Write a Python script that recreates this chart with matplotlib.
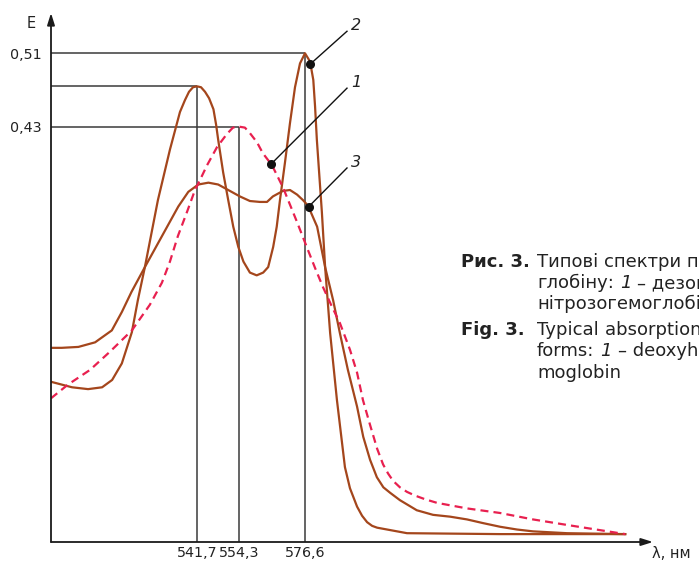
import numpy as np
import matplotlib
matplotlib.use("Agg")
import matplotlib.pyplot as plt

plt.rcParams['font.family'] = ['DejaVu Sans']

# ---------------- data ----------------
peak_wl = [541.7, 554.3, 576.6]
peak_wl_labels = ["541,7", "554,3", "576,6"]
peak_E = [0.474, 0.43, 0.51]
ytick_vals = [0.51, 0.43]
ytick_labels = ["0,51", "0,43"]

# curve 1 (dashed)
c1_wl = [498.0, 503.1, 509.7, 515.7, 522.2, 527.6, 531.2, 533.6, 536.0, 538.7,
         541.1, 542.6, 544.7, 547.7, 550.6, 552.4, 554.3, 556.2, 557.9, 560.3,
         562.3, 565.4, 569.1, 571.5, 573.9, 577.3, 580.0, 582.7, 585.4, 588.4,
         591.8, 594.2, 596.2, 598.6, 601.0, 603.0, 604.7, 606.4, 608.7, 611.1,
         613.8, 617.2, 621.3, 631.4, 642.6, 653.7, 665.2, 684.9]
c1_E = [0.134, 0.149, 0.165, 0.185, 0.208, 0.236, 0.260, 0.283, 0.311, 0.337,
        0.361, 0.372, 0.388, 0.408, 0.422, 0.429, 0.430, 0.429, 0.423, 0.413,
        0.401, 0.388, 0.364, 0.345, 0.326, 0.298, 0.276, 0.255, 0.236, 0.216,
        0.187, 0.162, 0.132, 0.105, 0.079, 0.062, 0.052, 0.044, 0.037, 0.032,
        0.028, 0.024, 0.020, 0.014, 0.009, 0.002, -0.004, -0.014]

# curve 2 (two sharp maxima)
c2_wl = [498.0, 504.3, 509.1, 513.3, 516.3, 519.2, 522.2, 524.0, 526.1, 530.0,
         533.6, 536.6, 538.1, 539.3, 540.5, 541.7, 542.9, 544.1, 545.3, 546.6,
         547.4, 548.0, 549.5, 551.0, 552.5, 554.0, 555.7, 557.9, 560.2, 562.4,
         564.1, 565.8, 567.0, 568.1, 569.8, 571.5, 573.2, 574.9, 576.6, 578.3,
         579.4, 580.0, 580.6, 582.3, 583.4, 585.1, 587.4, 590.1, 591.8, 594.2,
         595.9, 597.6, 599.3, 601.0, 611.1, 642.6, 684.9]
c2_E = [0.152, 0.146, 0.144, 0.146, 0.154, 0.172, 0.206, 0.241, 0.277, 0.350,
        0.405, 0.446, 0.459, 0.468, 0.473, 0.474, 0.473, 0.468, 0.461, 0.449,
        0.432, 0.416, 0.380, 0.350, 0.321, 0.299, 0.283, 0.271, 0.268, 0.271,
        0.277, 0.299, 0.321, 0.350, 0.391, 0.434, 0.473, 0.499, 0.510, 0.501,
        0.481, 0.452, 0.416, 0.337, 0.277, 0.205, 0.132, 0.059, 0.036, 0.016,
        0.006, -0.001, -0.005, -0.007, -0.013, -0.014, -0.014]

# curve 3 (flat double hump)
c3_wl = [498.0, 501.2, 506.2, 511.2, 516.2, 519.2, 522.1, 526.1, 531.1, 536.1,
         539.1, 542.1, 545.1, 548.0, 552.0, 554.5, 557.9, 561.3, 563.7, 565.7,
         569.1, 571.5, 573.9, 575.9, 577.6, 580.7, 583.4, 586.1, 588.4, 591.1,
         594.2, 596.3, 598.6, 600.9, 603.1, 605.4, 608.7, 614.4, 619.9, 625.7,
         631.4, 636.8, 642.6, 648.3, 653.7, 665.2, 684.9]
c3_E = [0.189, 0.189, 0.190, 0.195, 0.208, 0.228, 0.250, 0.277, 0.310, 0.343,
        0.359, 0.367, 0.369, 0.367, 0.359, 0.354, 0.349, 0.348, 0.348, 0.354,
        0.360, 0.361, 0.356, 0.350, 0.344, 0.321, 0.277, 0.241, 0.205, 0.165,
        0.125, 0.092, 0.067, 0.048, 0.037, 0.031, 0.023, 0.012, 0.007, 0.005,
        0.002, -0.002, -0.006, -0.009, -0.011, -0.013, -0.014]

# curve labels: marker point on curve and label name
lab_names = ["2", "1", "3"]
lab_wl = [578.3, 565.0, 577.9]
lab_E = [0.498, 0.389, 0.343]
lab_text_wl = [590.8, 590.8, 590.8]
lab_text_E = [0.534, 0.472, 0.385]

# ---------------- figure ----------------
W, H = 699, 561
fig = plt.figure(figsize=(W / 100, H / 100), dpi=100)
ax = fig.add_axes([51 / W, 19 / H, (653 - 51) / W, (542 - 13) / H])

# schematic (non-uniform) wavelength axis
nm_anchor = [480.0, 541.7, 554.3, 576.6, 720.0]
pos_anchor = [-9.1, 197.0, 239.3, 305.0, 728.9]
ax.set_xscale('function', functions=(lambda x: np.interp(x, nm_anchor, pos_anchor),
                                     lambda p: np.interp(p, pos_anchor, nm_anchor)))
x0, x1 = 498.0, 694.3
y0, y1 = -0.0226, 0.5539
ax.set_xlim(x0, x1)
ax.set_ylim(y0, y1)

for s in ax.spines.values():
    s.set_visible(False)

guide = '#3a3a3a'
for wl, e in zip(peak_wl, peak_E):
    ax.plot([x0, wl], [e, e], color=guide, lw=1.1, solid_capstyle='butt', zorder=1)
    ax.plot([wl, wl], [y0, e], color=guide, lw=1.1, solid_capstyle='butt', zorder=1)

brown = '#a4461c'
ax.plot(c2_wl, c2_E, color=brown, lw=1.6, zorder=3, solid_joinstyle='round')
ax.plot(c3_wl, c3_E, color=brown, lw=1.6, zorder=3, solid_joinstyle='round')
ax.plot(c1_wl, c1_E, color='#e8204f', lw=1.6, ls=(0, (3.6, 2.3)), zorder=3)

arrow = dict(arrowstyle='-|>,head_length=0.7,head_width=0.22', color='#1a1a1a', lw=1.3,
             shrinkA=0, shrinkB=0)
ax.annotate('', xy=(0, 1), xytext=(0, 0), xycoords='axes fraction',
            textcoords='axes fraction', arrowprops=arrow, annotation_clip=False)
ax.annotate('', xy=(1, 0), xytext=(0, 0), xycoords='axes fraction',
            textcoords='axes fraction', arrowprops=arrow, annotation_clip=False)

ax.set_xticks(peak_wl)
ax.set_xticklabels(peak_wl_labels)
ax.set_yticks(ytick_vals)
ax.set_yticklabels(ytick_labels)
ax.xaxis.set_minor_locator(matplotlib.ticker.NullLocator())
ax.tick_params(axis='both', length=0, labelsize=10.3, colors='#222222')
ax.tick_params(axis='x', pad=3)
ax.tick_params(axis='y', pad=6.5)

for n, wl, e, tw, te in zip(lab_names, lab_wl, lab_E, lab_text_wl, lab_text_E):
    ax.plot([wl, tw], [e, te], color='#111111', lw=1.0, zorder=4)
    ax.plot(wl, e, 'o', color='#111111', ms=5.5, zorder=5)
    ax.annotate(n, xy=(tw, te), xytext=(3, 4), textcoords='offset points',
                fontsize=11.5, style='italic', color='#222222', ha='left', va='center')

def px(x, y):
    return x / W, 1 - y / H

fig.text(*px(31, 23), "E", fontsize=10.5, ha='center', va='center', color='#222222')
fig.text(*px(652, 553), "λ, нм", fontsize=10.5, ha='left', va='center', color='#222222')

# caption (cut by the right edge of the picture)
CAP = 13.0
def cap_line(x, y, segments):
    first, style = segments[0]
    t = fig.text(*px(x, y), first, fontsize=CAP, color='#222222', va='baseline',
                 ha='left', **style)
    for txt, st in segments[1:]:
        t = ax.annotate(txt, xy=(1, 0), xycoords=t, xytext=(6, 0),
                        textcoords='offset pixels', fontsize=CAP, color='#222222',
                        va='bottom', ha='left', annotation_clip=False, **st)

B, R, I = {'fontweight': 'bold'}, {}, {'style': 'italic'}
cap_line(461, 267, [("Рис. 3.", B)])
cap_line(537, 267, [("Типові спектри поглинання гемо-", R)])
cap_line(537, 288, [("глобіну:", R), ("1", I), ("– дезоксигемоглобін, 2 – оксигемоглобін", R)])
cap_line(537, 309, [("нітрозогемоглобін", R)])
cap_line(461, 335, [("Fig. 3.", B)])
cap_line(537, 335, [("Typical", R), ("absorption spectra of hemoglobin", R)])
cap_line(537, 356, [("forms:", R), ("1", I), ("– deoxyhemoglobin, 2 – oxyhemoglobin", R)])
cap_line(537, 378, [("moglobin", R)])

fig.savefig("out.png", dpi=100)
